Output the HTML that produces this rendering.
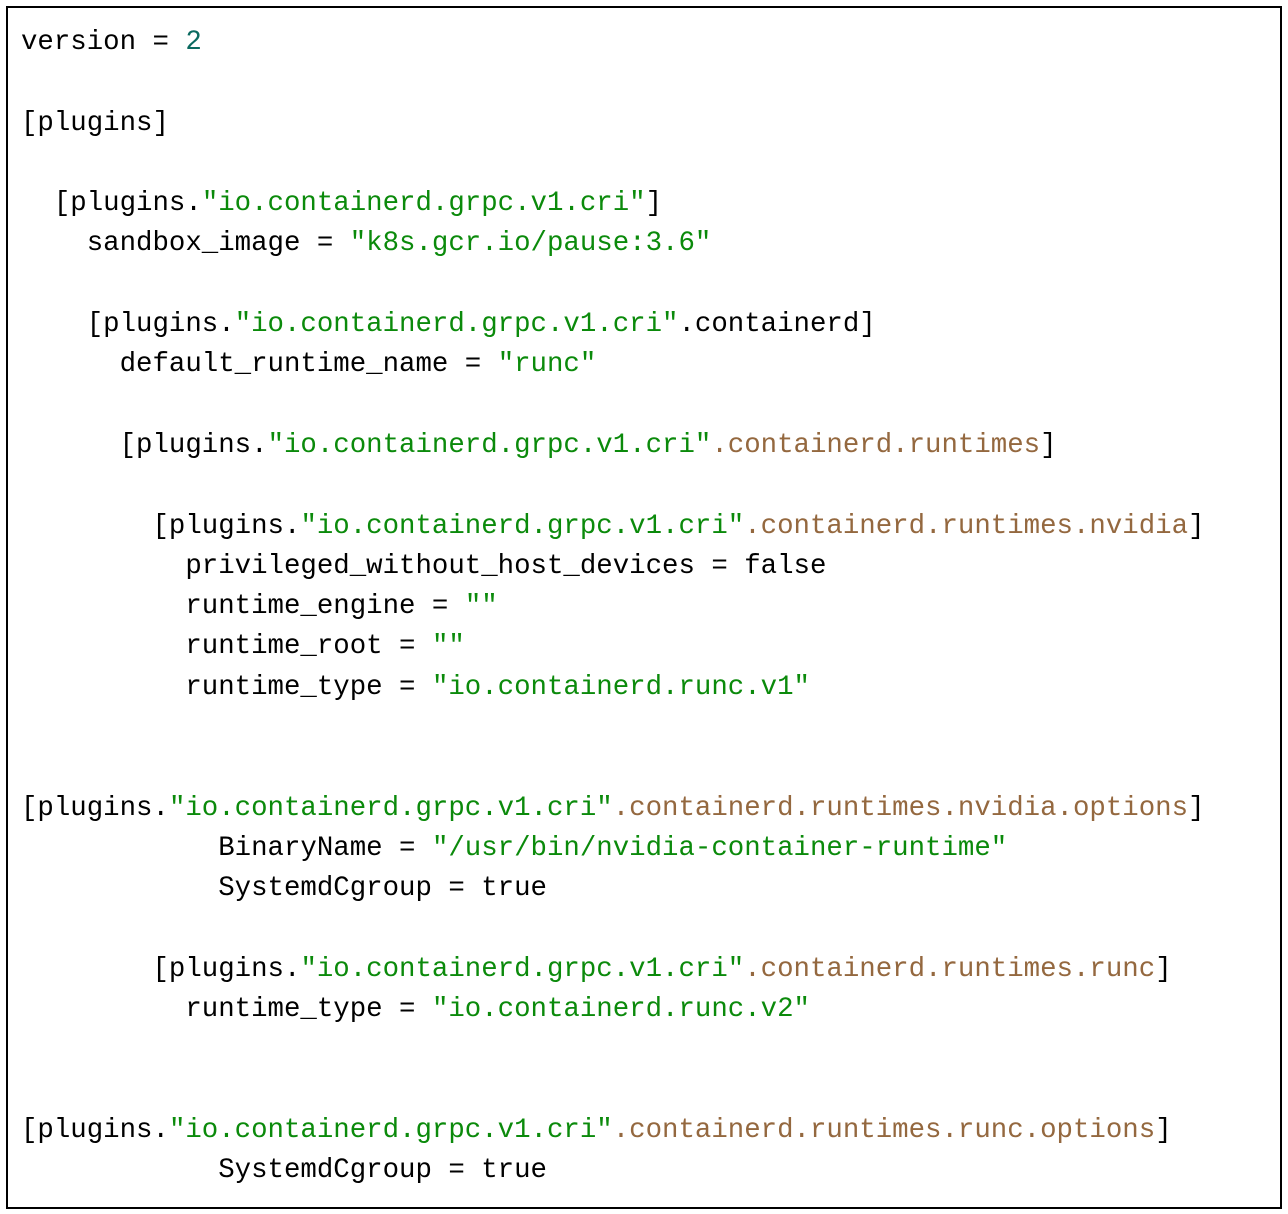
<!DOCTYPE html>
<html><head><meta charset="utf-8"><style>
html,body{margin:0;padding:0;background:#fff;width:1288px;height:1214px;overflow:hidden}
.box{position:absolute;left:6px;top:6px;width:1272px;height:1199px;border:2px solid #000;}
pre{position:absolute;left:21px;top:23px;margin:0;font-family:"Liberation Mono",monospace;font-size:27.4px;line-height:40.3px;color:#000;}
.s{color:#0b8a0b}.k{color:#94683f}.n{color:#0b6a60}
</style></head><body>
<div class="box"></div>
<pre>version = <span class="n">2</span>

[plugins]

  [plugins.<span class="s">"io.containerd.grpc.v1.cri"</span>]
    sandbox_image = <span class="s">"k8s.gcr.io/pause:3.6"</span>

    [plugins.<span class="s">"io.containerd.grpc.v1.cri"</span>.containerd]
      default_runtime_name = <span class="s">"runc"</span>

      [plugins.<span class="s">"io.containerd.grpc.v1.cri"</span><span class="k">.containerd.runtimes</span>]

        [plugins.<span class="s">"io.containerd.grpc.v1.cri"</span><span class="k">.containerd.runtimes.nvidia</span>]
          privileged_without_host_devices = false
          runtime_engine = <span class="s">""</span>
          runtime_root = <span class="s">""</span>
          runtime_type = <span class="s">"io.containerd.runc.v1"</span>


[plugins.<span class="s">"io.containerd.grpc.v1.cri"</span><span class="k">.containerd.runtimes.nvidia.options</span>]
            BinaryName = <span class="s">"/usr/bin/nvidia-container-runtime"</span>
            SystemdCgroup = true

        [plugins.<span class="s">"io.containerd.grpc.v1.cri"</span><span class="k">.containerd.runtimes.runc</span>]
          runtime_type = <span class="s">"io.containerd.runc.v2"</span>


[plugins.<span class="s">"io.containerd.grpc.v1.cri"</span><span class="k">.containerd.runtimes.runc.options</span>]
            SystemdCgroup = true</pre>
</body></html>
